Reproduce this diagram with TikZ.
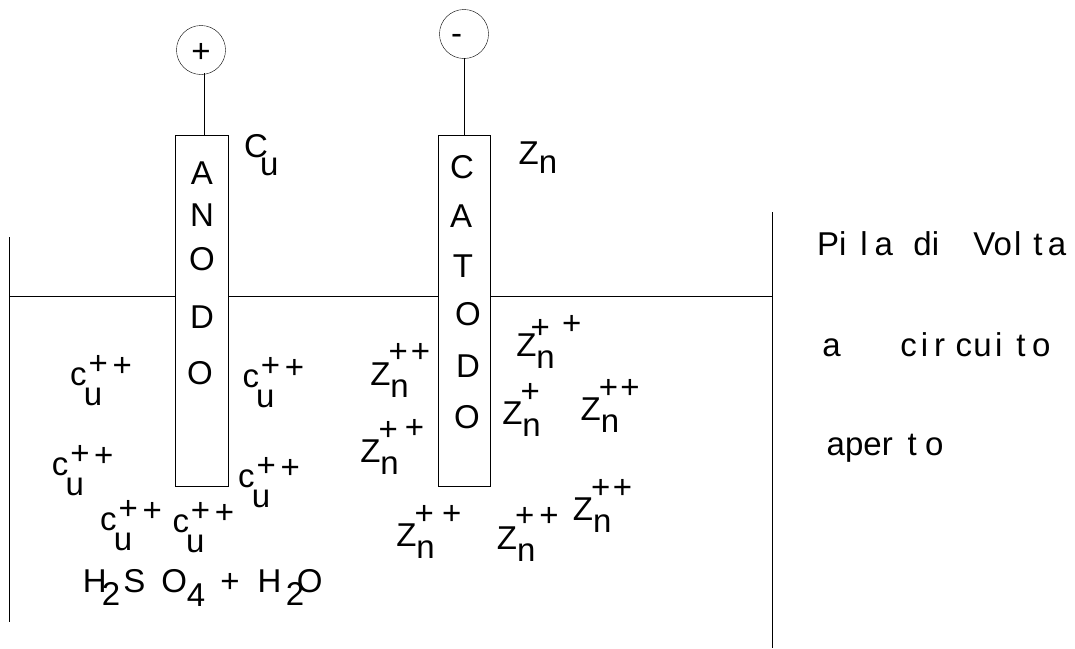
\documentclass[tikz,border=0pt]{standalone}
\usepackage{fontspec}
\setmainfont{Liberation Sans}
\tikzstyle{plate}=[draw,minimum width=53pt,minimum height=351pt,inner sep=0pt]
\tikzstyle{pole}=[draw,circle,minimum size=49pt,inner sep=0pt]
\tikzstyle{txt}=[font=\fontsize{33}{39}\selectfont,anchor=base west,inner sep=0pt]
\tikzstyle{letter}=[font=\fontsize{33}{39}\selectfont,anchor=base,inner sep=0pt]
\newcommand{\rb}[2]{\raisebox{#1pt}{#2}}
\newcommand{\cuion}{c\kern-2.8pt\rb{-20}{u}\kern-13.7pt\rb{11}{+}\kern4.7pt\rb{9}{+}}
\newcommand{\znion}[2]{Z\rb{-12}{n}\kern-#1pt #2}

\begin{document}
\begin{tikzpicture}[x=1pt,y=-1pt]
    \useasboundingbox (0,0) rectangle (1075,648);
    \node[plate] (anode) at (201.3,310.5) {};
    \node[plate,minimum width=52pt] (cathode) at (464.5,310.5) {};
    \node[pole] (plus) at (201,50) {};
    \node[pole] (minus) at (464,34) {};
    \node[txt] (plussign) at (191.2,62) {+};
    \node[txt] (minussign) at (451,44) {-};

    \coordinate (plusb) at (204,73);
    \coordinate (minusb) at (464,58);
    \coordinate (wl) at (9,296);
    \coordinate (wr) at (772,296);
    \coordinate (wlt) at (9,237);
    \coordinate (wlb) at (9,622);
    \coordinate (wrt) at (772,212);
    \coordinate (wrb) at (772,648);

    \draw (plusb) -- (plusb |- anode.north);
    \draw (minusb) -- (minusb |- cathode.north);
    \draw (wlt) -- (wlb);
    \draw (wrt) -- (wrb);
    \draw (wl) -- (wl -| anode.west);
    \draw (wl -| anode.east) -- (wl -| cathode.west);
    \draw (wl -| cathode.east) -- (wr);

    % letters on the plates
    \node[letter] (a1) at (202,184) {A};
    \node[letter] (a2) at (202,226) {N};
    \node[letter] (a3) at (202,270) {O};
    \node[letter] (a4) at (202,328) {D};
    \node[letter] (a5) at (200,384) {O};
    \node[letter] (c1) at (462,178) {C};
    \node[letter] (c2) at (461,227) {A};
    \node[letter] (c3) at (463,277) {T};
    \node[letter] (c4) at (468,325) {O};
    \node[letter] (c5) at (468,377) {D};
    \node[letter] (c6) at (467,428) {O};

    \node[txt] (cu) at (244,157.5) {C\kern-8pt\rb{-18}{u}};
    \node[txt] (zn) at (518.5,164) {Z\rb{-9.5}{n}};

    % copper ions
    \node[txt] (cu1) at (70,385) {\cuion};
    \node[txt] (cu2) at (242.3,387) {\cuion};
    \node[txt] (cu3) at (51.7,475) {\cuion};
    \node[txt] (cu4) at (238,487) {\cuion};
    \node[txt] (cu5) at (100,530.7) {\cuion};
    \node[txt] (cu6) at (172.3,532) {\cuion};

    % zinc ions
    \node[txt] (zn1) at (370.1,385) {\znion{20.3}{\rb{22.5}{+}\kern3pt\rb{22.5}{+}}};
    \node[txt] (zn2) at (360.1,462.3) {\znion{20.3}{\rb{22}{+}\kern7pt\rb{23.5}{+}}};
    \node[txt] (zn3) at (516.1,356.7) {\znion{24.3}{\rb{18}{+}\kern12.4pt\rb{22}{+}}};
    \node[txt] (zn4) at (502.1,424.3) {\znion{20.3}{\rb{22}{+}}};
    \node[txt] (zn5) at (580.4,420.7) {\znion{20.3}{\rb{22}{+}\kern2.4pt\rb{22}{+}}};
    \node[txt] (zn6) at (396.1,546.7) {\znion{20.3}{\rb{22}{+}\kern8.4pt\rb{22}{+}}};
    \node[txt] (zn7) at (496.7,549) {\znion{20.3}{\rb{22.5}{+}\kern5pt\rb{22.5}{+}}};
    \node[txt] (zn8) at (572.7,520.7) {\znion{20.3}{\rb{22}{+}\kern2.4pt\rb{22}{+}}};

    \node[txt] (acid) at (82.7,592.3) {H\kern-4.8pt\rb{-13}{2}\kern3pt S\kern16pt O\rb{-14}{4}\kern15pt +\kern18pt H\kern4.5pt\rb{-13}{2}\kern-7.5pt O};

    % title on the right
    \node[txt] (t1) at (816.8,255) {Pi\kern14pt l\kern7pt a\kern20.4pt di\kern34.4pt Vo\kern2pt l\kern12pt t\kern5.3pt a};
    \node[txt] (t2) at (822.2,356.7) {a\kern59.5pt c\kern4pt i\kern6pt r\kern10.5pt c\kern1.3pt u\kern3.4pt i\kern14pt t\kern6.6pt o};
    \node[txt] (t3) at (826.5,455) {aper\kern15pt t\kern8.3pt o};
\end{tikzpicture}
\end{document}
